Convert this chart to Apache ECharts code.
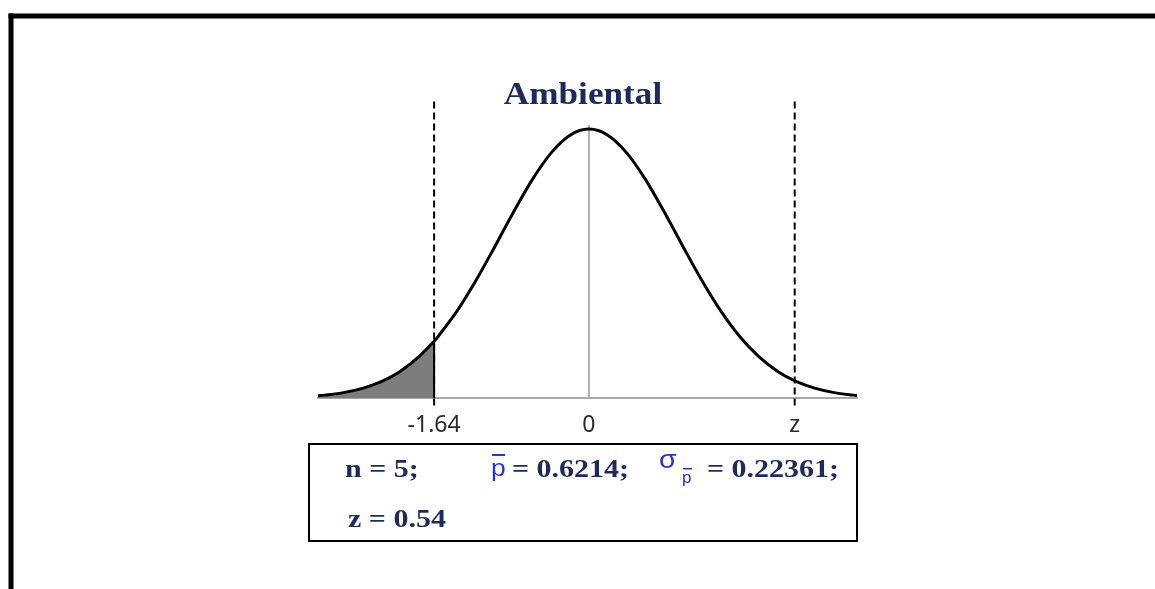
<!DOCTYPE html>
<html>
<head>
<meta charset="utf-8">
<script src="https://cdn.jsdelivr.net/npm/echarts@6/dist/echarts.min.js"></script>
<style>
html,body{margin:0;padding:0;background:#fff;}
#chart{width:1155px;height:589px;}
</style>
</head>
<body>
<div id="chart"></div>
<script>
// ---- data ----
const titleText = 'Ambiental';
// density curve (x in z units, y = density height)
const curveX = [-2.87, -2.8, -2.6, -2.4, -2.2, -2.0, -1.8, -1.64, -1.6, -1.4, -1.2, -1.0, -0.8, -0.6, -0.4, -0.2, 0,
                 0.2, 0.4, 0.6, 0.8, 1.0, 1.2, 1.4, 1.6, 1.8, 2.0, 2.2, 2.4, 2.6, 2.8, 2.84];
const curveY = [0.0034, 0.0043, 0.0080, 0.0143, 0.0243, 0.0395, 0.0613, 0.0843, 0.0908, 0.1285, 0.1736, 0.2238, 0.2756, 0.3240, 0.3637, 0.3899, 0.3990,
                0.3899, 0.3637, 0.3240, 0.2756, 0.2238, 0.1736, 0.1285, 0.0908, 0.0613, 0.0395, 0.0243, 0.0143, 0.0080, 0.0043, 0.0039];
const criticalValue = -1.64;     // left dashed line (shaded tail to its left)
const zMarker = 2.18;            // right dashed line labelled "z"
const tickValues = [-1.64, 0, 2.18];
const tickLabels = ['-1.64', '0', 'z'];
const dashTop = 0.443;
const dashBottom = -0.011;
const centerTop = 0.405;
const statN = 'n = 5;';
const statP = '= 0.6214;';
const statSigma = '= 0.22361;';
const statZ = 'z = 0.54';

const curveData = curveX.map((x, i) => [x, curveY[i]]);
const tailData = curveData.filter(d => d[0] <= criticalValue + 1e-9);
const critHeight = curveY[curveX.indexOf(criticalValue)];

const navy = '#1d2a5e';
const blue = '#2a33d6';
const statFont = 'bold 25px "Liberation Serif"';
const sx = 1.2;

const chart = echarts.init(document.getElementById('chart'), null, {renderer: 'canvas'});
chart.setOption({
  animation: false,
  backgroundColor: '#ffffff',
  grid: {left: 318, right: 298, top: 90, bottom: 177.5, containLabel: false},
  xAxis: {
    type: 'value', min: -2.87, max: 2.84,
    splitLine: {show: false},
    axisTick: {show: false},
    axisLine: {show: true, onZero: true, lineStyle: {color: '#a8a8a8', width: 2}},
    axisLabel: {
      show: true, customValues: tickValues, margin: 2,
      fontFamily: 'Noto Sans', fontSize: 23, color: '#2b2b2b',
      formatter: v => { const i = tickValues.findIndex(t => Math.abs(t - v) < 1e-6); return i >= 0 ? tickLabels[i] : ''; }
    }
  },
  yAxis: {type: 'value', min: -0.02, max: 0.457, show: false, splitLine: {show: false}},
  series: [
    {type: 'line', data: tailData, smooth: 0.3, symbol: 'none', lineStyle: {width: 0},
     areaStyle: {color: '#7d7d7d', opacity: 1}, z: 1},
    {type: 'line', data: [[0, 0], [0, centerTop]], symbol: 'none', lineStyle: {color: '#b0b0b0', width: 2}, z: 2},
    {type: 'line', data: [[criticalValue, dashBottom], [criticalValue, dashTop]], symbol: 'none',
     lineStyle: {color: '#000', width: 2, type: [7, 4]}, z: 3},
    {type: 'line', data: [[criticalValue, 0], [criticalValue, critHeight]], symbol: 'none',
     lineStyle: {color: '#000', width: 2}, z: 3},
    {type: 'line', data: [[zMarker, dashBottom], [zMarker, dashTop]], symbol: 'none',
     lineStyle: {color: '#000', width: 2, type: [7, 4]}, z: 3},
    {type: 'line', data: curveData, smooth: 0.3, symbol: 'none', lineStyle: {color: '#000', width: 3}, z: 4}
  ],
  graphic: [
    {type: 'rect', shape: {x: 8.5, y: 13.5, width: 1150, height: 5}, style: {fill: '#000'}},
    {type: 'rect', shape: {x: 8.5, y: 13.5, width: 5, height: 580}, style: {fill: '#000'}},
    {type: 'text', x: 583, y: 96, scaleX: 1.1, style: {text: titleText, fill: navy, font: 'bold 32px "Liberation Serif"', textAlign: 'center', textVerticalAlign: 'middle'}},
    {type: 'rect', shape: {x: 309, y: 444, width: 548, height: 97}, style: {fill: 'none', stroke: '#000', lineWidth: 2}},
    {type: 'text', x: 345, y: 471, scaleX: sx, style: {text: statN, fill: navy, font: statFont, textVerticalAlign: 'middle'}},
    {type: 'text', x: 491, y: 469, scaleX: 1.1, style: {text: 'p', fill: blue, font: '24px "Liberation Sans"', textVerticalAlign: 'middle'}},
    {type: 'rect', shape: {x: 492, y: 454, width: 13, height: 2}, style: {fill: blue}},
    {type: 'text', x: 512, y: 471, scaleX: sx, style: {text: statP, fill: navy, font: statFont, textVerticalAlign: 'middle'}},
    {type: 'text', x: 659, y: 461, scaleX: 1.1, style: {text: 'σ', fill: blue, font: '26px "Liberation Sans"', textVerticalAlign: 'middle'}},
    {type: 'text', x: 682, y: 478, style: {text: 'p', fill: blue, font: '17px "Liberation Sans"', textVerticalAlign: 'middle'}},
    {type: 'rect', shape: {x: 683, y: 468, width: 9, height: 1.5}, style: {fill: blue}},
    {type: 'text', x: 707, y: 471, scaleX: sx, style: {text: statSigma, fill: navy, font: statFont, textVerticalAlign: 'middle'}},
    {type: 'text', x: 348, y: 521, scaleX: sx, style: {text: statZ, fill: navy, font: statFont, textVerticalAlign: 'middle'}}
  ]
});
</script>
</body>
</html>
